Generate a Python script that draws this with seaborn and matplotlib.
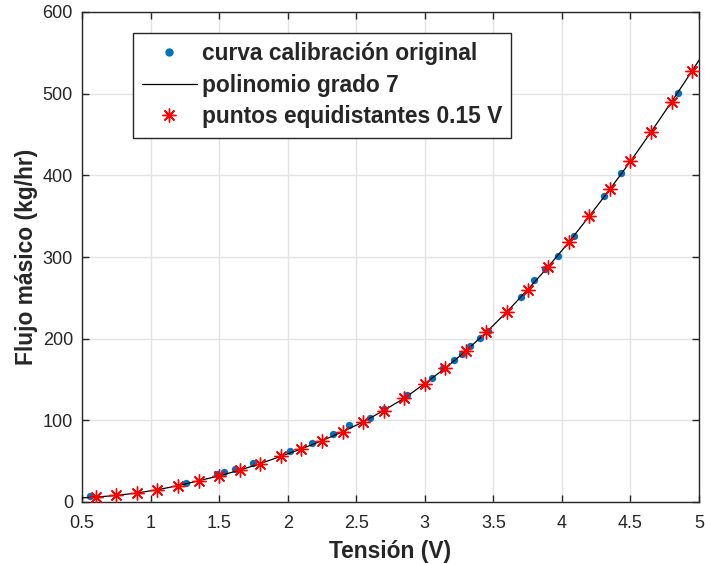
import numpy as np
import pandas as pd
import matplotlib
matplotlib.use("Agg")
import matplotlib.pyplot as plt
from matplotlib.lines import Line2D
import seaborn as sns

# original calibration curve (blue dots)
orig_v = [0.558, 1.26, 1.485, 1.535, 1.616, 1.75, 2.02, 2.18, 2.33, 2.45, 2.60, 2.70,
          2.87, 3.05, 3.13, 3.21, 3.27, 3.33, 3.40, 3.46, 3.70, 3.80, 3.88, 3.97,
          4.09, 4.31, 4.43, 4.85]
orig_q = [7, 23, 34, 37, 40, 48, 62, 72, 83, 94, 103, 114,
          131, 152, 164, 174, 181, 191, 201, 210, 251, 272, 285, 301,
          326, 375, 403, 501]

# equidistant points, 0.15 V step (red asterisks)
eq_v = [0.6, 0.75, 0.9, 1.05, 1.2, 1.35, 1.5, 1.65, 1.8, 1.95, 2.1, 2.25, 2.4, 2.55,
        2.7, 2.85, 3.0, 3.15, 3.3, 3.45, 3.6, 3.75, 3.9, 4.05, 4.2, 4.35, 4.5, 4.65,
        4.8, 4.95]
eq_q = [6, 8, 11, 15, 20, 26, 32, 39, 47, 56, 65, 75, 86, 98,
        112, 127, 145, 164, 185, 208, 233, 260, 288, 318, 350, 383, 417, 453,
        490, 528]

# polynomial (degree 7) curve
poly_v = [0.5] + eq_v + [5.0]
poly_q = [5] + eq_q + [541]

x_ticks = [0.5, 1, 1.5, 2, 2.5, 3, 3.5, 4, 4.5, 5]
x_tick_labels = ["0.5", "1", "1.5", "2", "2.5", "3", "3.5", "4", "4.5", "5"]
y_ticks = [0, 100, 200, 300, 400, 500, 600]

sns.set_theme(style="whitegrid")
plt.rcParams['font.family'] = ['Liberation Sans', 'DejaVu Sans']

fig = plt.figure(figsize=(7.05, 5.64), dpi=100)
ax = fig.add_axes([82/705, 1-502/564, 617/705, 490/564])

blue = "#0072BD"
df_o = pd.DataFrame({"v": orig_v, "q": orig_q})
df_p = pd.DataFrame({"v": poly_v, "q": poly_q})
df_e = pd.DataFrame({"v": eq_v, "q": eq_q})

sns.scatterplot(data=df_o, x="v", y="q", ax=ax, color=blue, s=28, edgecolor=blue,
                linewidth=0, zorder=3)
sns.lineplot(data=df_p, x="v", y="q", ax=ax, color="black", linewidth=0.9,
             sort=True, zorder=4)
ax.plot(df_e["v"], df_e["q"], linestyle="none", marker=(8, 2, 0), markersize=10,
        markeredgewidth=1.0, color="red", zorder=5)

ax.set_xlim(0.5, 5)
ax.set_ylim(0, 600)
ax.set_xticks(x_ticks)
ax.set_xticklabels(x_tick_labels)
ax.set_yticks(y_ticks)

ax.set_facecolor("white")
ax.grid(True, color="#e3e3e3", linewidth=1)
for s in ax.spines.values():
    s.set_visible(True)
    s.set_color("#262626")
    s.set_linewidth(1.0)
ax.tick_params(axis="both", which="both", direction="in", length=5, width=1,
               colors="#262626", labelsize=13, top=True, right=True,
               bottom=True, left=True)
ax.tick_params(axis="x", pad=9)
ax.tick_params(axis="y", pad=6.5)
for lab in ax.get_xticklabels() + ax.get_yticklabels():
    lab.set_color("#262626")

ax.set_xlabel("Tensión (V)", fontsize=16.4, fontweight="bold", color="#262626", labelpad=6)
ax.set_ylabel("Flujo másico (kg/hr)", fontsize=16.4, fontweight="bold", color="#262626", labelpad=3)

handles = [
    Line2D([], [], linestyle="none", marker="o", markersize=5, color=blue),
    Line2D([], [], color="black", linewidth=0.9),
    Line2D([], [], linestyle="none", marker=(8, 2, 0), markersize=10,
           markeredgewidth=1.0, color="red"),
]
labels = ["curva calibración original", "polinomio grado 7", "puntos equidistantes 0.15 V"]
leg = ax.legend(handles, labels, loc="upper left", bbox_to_anchor=(51/617, 469/490),
                borderaxespad=0, fancybox=False, framealpha=1, edgecolor="#262626",
                prop={"weight": "bold", "size": 16.4}, handlelength=2.4,
                handletextpad=0.22, labelspacing=0.38, borderpad=0.4)
leg.get_frame().set_linewidth(1.0)

fig.savefig("out.png", dpi=100, facecolor="white")
